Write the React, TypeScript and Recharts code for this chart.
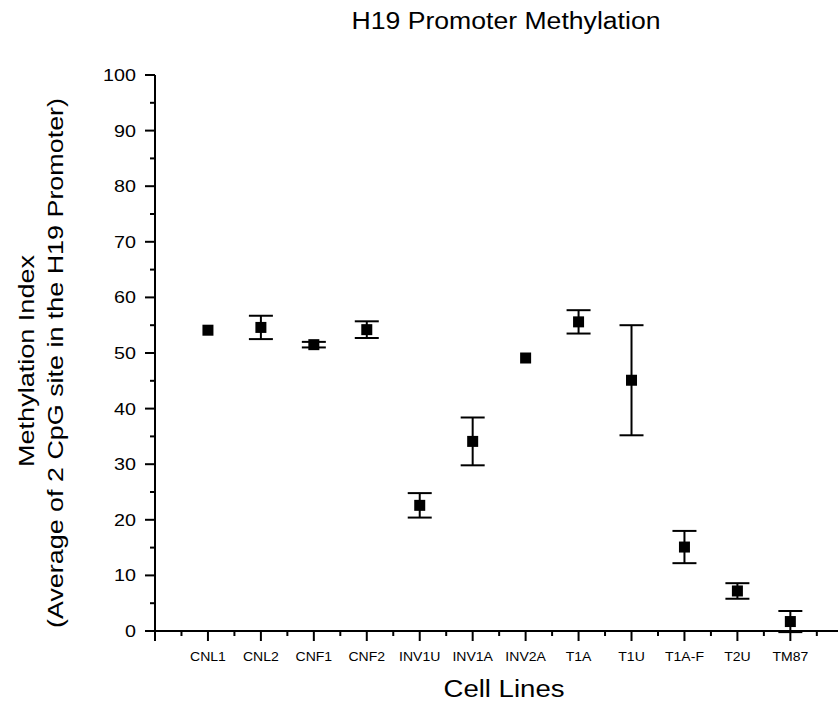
import React from "react";
import {
    ScatterChart,
    Scatter,
    XAxis,
    YAxis,
    ErrorBar,
    Label,
} from "recharts";

const categories = ["CNL1", "CNL2", "CNF1", "CNF2", "INV1U", "INV1A", "INV2A", "T1A", "T1U", "T1A-F", "T2U", "TM87"];
const methylation = [54.1, 54.6, 51.5, 54.2, 22.6, 34.1, 49.1, 55.6, 45.1, 15.1, 7.2, 1.7];
const errors = [0, 2.1, 0.5, 1.5, 2.2, 4.3, 0, 2.1, 9.9, 2.9, 1.4, 1.9];

const xTicks = [0, 0.5, 1, 1.5, 2, 2.5, 3, 3.5, 4, 4.5, 5, 5.5, 6, 6.5, 7, 7.5, 8, 8.5, 9, 9.5, 10, 10.5, 11, 11.5, 12, 12.5];
const yTicks = [0, 5, 10, 15, 20, 25, 30, 35, 40, 45, 50, 55, 60, 65, 70, 75, 80, 85, 90, 95, 100];

const data = categories.map((name, i) => ({
    x: i + 1,
    name,
    value: methylation[i],
    err: errors[i],
}));

const FONT = "'Liberation Sans', Arial, sans-serif";

const XTick = (props: any) => {
    const { x, y, payload } = props;
    const v = payload.value;
    const major = Number.isInteger(v);
    const label = major && v >= 1 ? categories[v - 1] : "";
    return (
        <g>
            <line x1={x} x2={x} y1={y} y2={y + (major ? 10 : 5)} stroke="#000" strokeWidth={2} />
            {label && (
                <text
                    transform={`translate(${x},${y + 30}) scale(1.08,1)`}
                    textAnchor="middle"
                    fontSize={13}
                    fontFamily={FONT}
                    fill="#000"
                >
                    {label}
                </text>
            )}
        </g>
    );
};

const YTick = (props: any) => {
    const { x, y, payload } = props;
    const v = payload.value;
    const major = v % 10 === 0;
    return (
        <g>
            <line x1={x} x2={x - (major ? 10 : 5)} y1={y} y2={y} stroke="#000" strokeWidth={2} />
            {major && (
                <text
                    transform={`translate(${x - 19},${y + 6}) scale(1.16,1)`}
                    textAnchor="end"
                    fontSize={17}
                    fontFamily={FONT}
                    fill="#000"
                >
                    {v}
                </text>
            )}
        </g>
    );
};

const YLabel = () => (
    <g fontFamily={FONT} fontSize={22} fill="#000">
        <text
            x={0}
            y={0}
            transform="translate(34 361) rotate(-90)"
            textAnchor="middle"
            textLength={212}
            lengthAdjust="spacingAndGlyphs"
        >
            Methylation Index
        </text>
        <text
            x={0}
            y={0}
            transform="translate(63 363) rotate(-90)"
            textAnchor="middle"
            textLength={530}
            lengthAdjust="spacingAndGlyphs"
        >
            (Average of 2 CpG site in the H19 Promoter)
        </text>
    </g>
);

const XLabel = () => (
    <g fontFamily={FONT} fontSize={23} fill="#000">
        <text x={506} y={29} textAnchor="middle" textLength={309} lengthAdjust="spacingAndGlyphs">
            H19 Promoter Methylation
        </text>
        <text x={504} y={697} textAnchor="middle" textLength={121} lengthAdjust="spacingAndGlyphs">
            Cell Lines
        </text>
    </g>
);

const Square = (props: any) => {
    const { cx, cy } = props;
    return <rect x={cx - 5.5} y={cy - 5.5} width={11} height={11} fill="#000" />;
};

export default function App() {
    return (
        <div style={{ position: "absolute", left: 0, top: 0, width: 838, height: 707, background: "#fff" }}>
            <ScatterChart width={838} height={707} margin={{ top: 75, right: 0, bottom: 0, left: 0 }}>
                <XAxis
                    type="number"
                    dataKey="x"
                    domain={[0, 12.9]}
                    ticks={xTicks}
                    interval={0}
                    allowDataOverflow
                    height={76}
                    tickSize={0}
                    tickMargin={0}
                    tickLine={false}
                    tick={<XTick />}
                    axisLine={{ stroke: "#000", strokeWidth: 2 }}
                >
                    <Label content={<XLabel />} />
                </XAxis>
                <YAxis
                    type="number"
                    dataKey="value"
                    domain={[0, 100]}
                    ticks={yTicks}
                    interval={0}
                    allowDataOverflow
                    width={155}
                    tickSize={0}
                    tickMargin={0}
                    tickLine={false}
                    tick={<YTick />}
                    axisLine={{ stroke: "#000", strokeWidth: 2 }}
                >
                    <Label content={<YLabel />} />
                </YAxis>
                <Scatter data={data} shape={<Square />} isAnimationActive={false}>
                    <ErrorBar dataKey="err" direction="y" width={12} stroke="#000" strokeWidth={2} />
                </Scatter>
            </ScatterChart>
        </div>
    );
}
